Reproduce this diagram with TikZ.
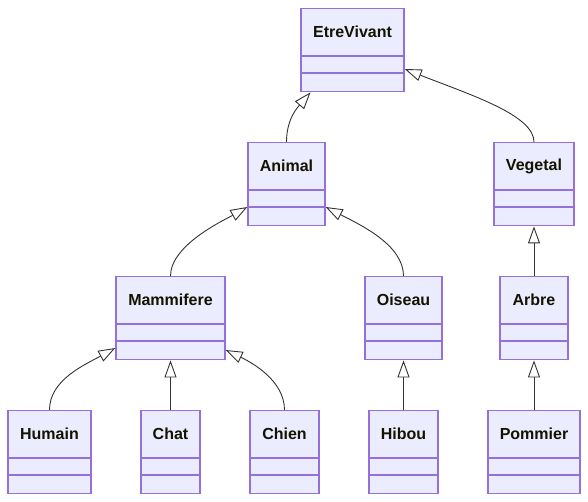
\documentclass[tikz,border=0pt]{standalone}
\usepackage{fontspec}
\setmainfont{Liberation Sans}
\usetikzlibrary{arrows.meta,calc}
\definecolor{boxfill}{HTML}{ECECFF}
\definecolor{boxline}{HTML}{9370DB}
\definecolor{edgecol}{HTML}{333333}
\definecolor{txtcol}{HTML}{131300}
\tikzset{
  umlframe/.style={draw=boxline, fill=boxfill, line width=1.4pt, rectangle, minimum height=83pt, inner sep=0pt, anchor=north},
  umltitle/.style={font=\fontsize{16}{19}\selectfont\bfseries, text=txtcol, inner sep=0pt},
  umldiv/.style={draw=boxline, line width=1.4pt},
  ext/.style={draw=edgecol, line width=0.9pt, -{Triangle[open, length=17pt, width=12pt, fill=white]}}
}
\newcommand\umlbox[5]{%
  \node[umlframe, minimum width=#4pt] (#1) at (#2,#3) {};
  \node[umltitle] (#1-t) at ([yshift=-24pt]#1.north) {#5};
  \draw[umldiv] ([yshift=-48pt]#1.north west) -- ([yshift=-48pt]#1.north east);
  \draw[umldiv] ([yshift=-65pt]#1.north west) -- ([yshift=-65pt]#1.north east);
}
\begin{document}
\begin{tikzpicture}[x=1pt,y=-1pt]
\useasboundingbox (0,0) rectangle (588,502);
\umlbox{ev}{352.5}{8}{103}{EtreVivant}
\umlbox{an}{286.5}{142}{77}{Animal}
\umlbox{veg}{534}{142}{80}{Vegetal}
\umlbox{mam}{170.5}{276}{109}{Mammifere}
\umlbox{ois}{403.5}{276}{77}{Oiseau}
\umlbox{arb}{534}{276}{68}{Arbre}
\umlbox{hum}{49.5}{410}{83}{Humain}
\umlbox{chat}{170.5}{410}{59}{Chat}
\umlbox{chien}{284.5}{410}{69}{Chien}
\umlbox{hib}{403.5}{410}{69}{Hibou}
\umlbox{pom}{534}{410}{92}{Pommier}

\draw[ext] (an.north) .. controls +(0,-24) and +(-12,14) .. ([xshift=-42pt]ev.south);
\draw[ext] (veg.north) .. controls +(0,-27) and +(66,26) .. ([yshift=-61pt]ev.north east);
\draw[ext] (mam.north) .. controls +(0,-31) and +(-23,13) .. ([yshift=-65pt]an.north west);
\draw[ext] (ois.north) .. controls +(0,-31) and +(35,18) .. ([yshift=-65pt]an.north east);
\draw[ext] (hum.north) .. controls +(0,-30) and +(-31,17) .. ([yshift=-72pt]mam.north west);
\draw[ext] (chien.north) .. controls +(0,-30) and +(25,12) .. ([yshift=-74pt]mam.north east);
\draw[ext] (chat.north) -- (mam.south);
\draw[ext] (hib.north) -- (ois.south);
\draw[ext] (pom.north) -- (arb.south);
\draw[ext] (arb.north) -- (veg.south);
\end{tikzpicture}
\end{document}
